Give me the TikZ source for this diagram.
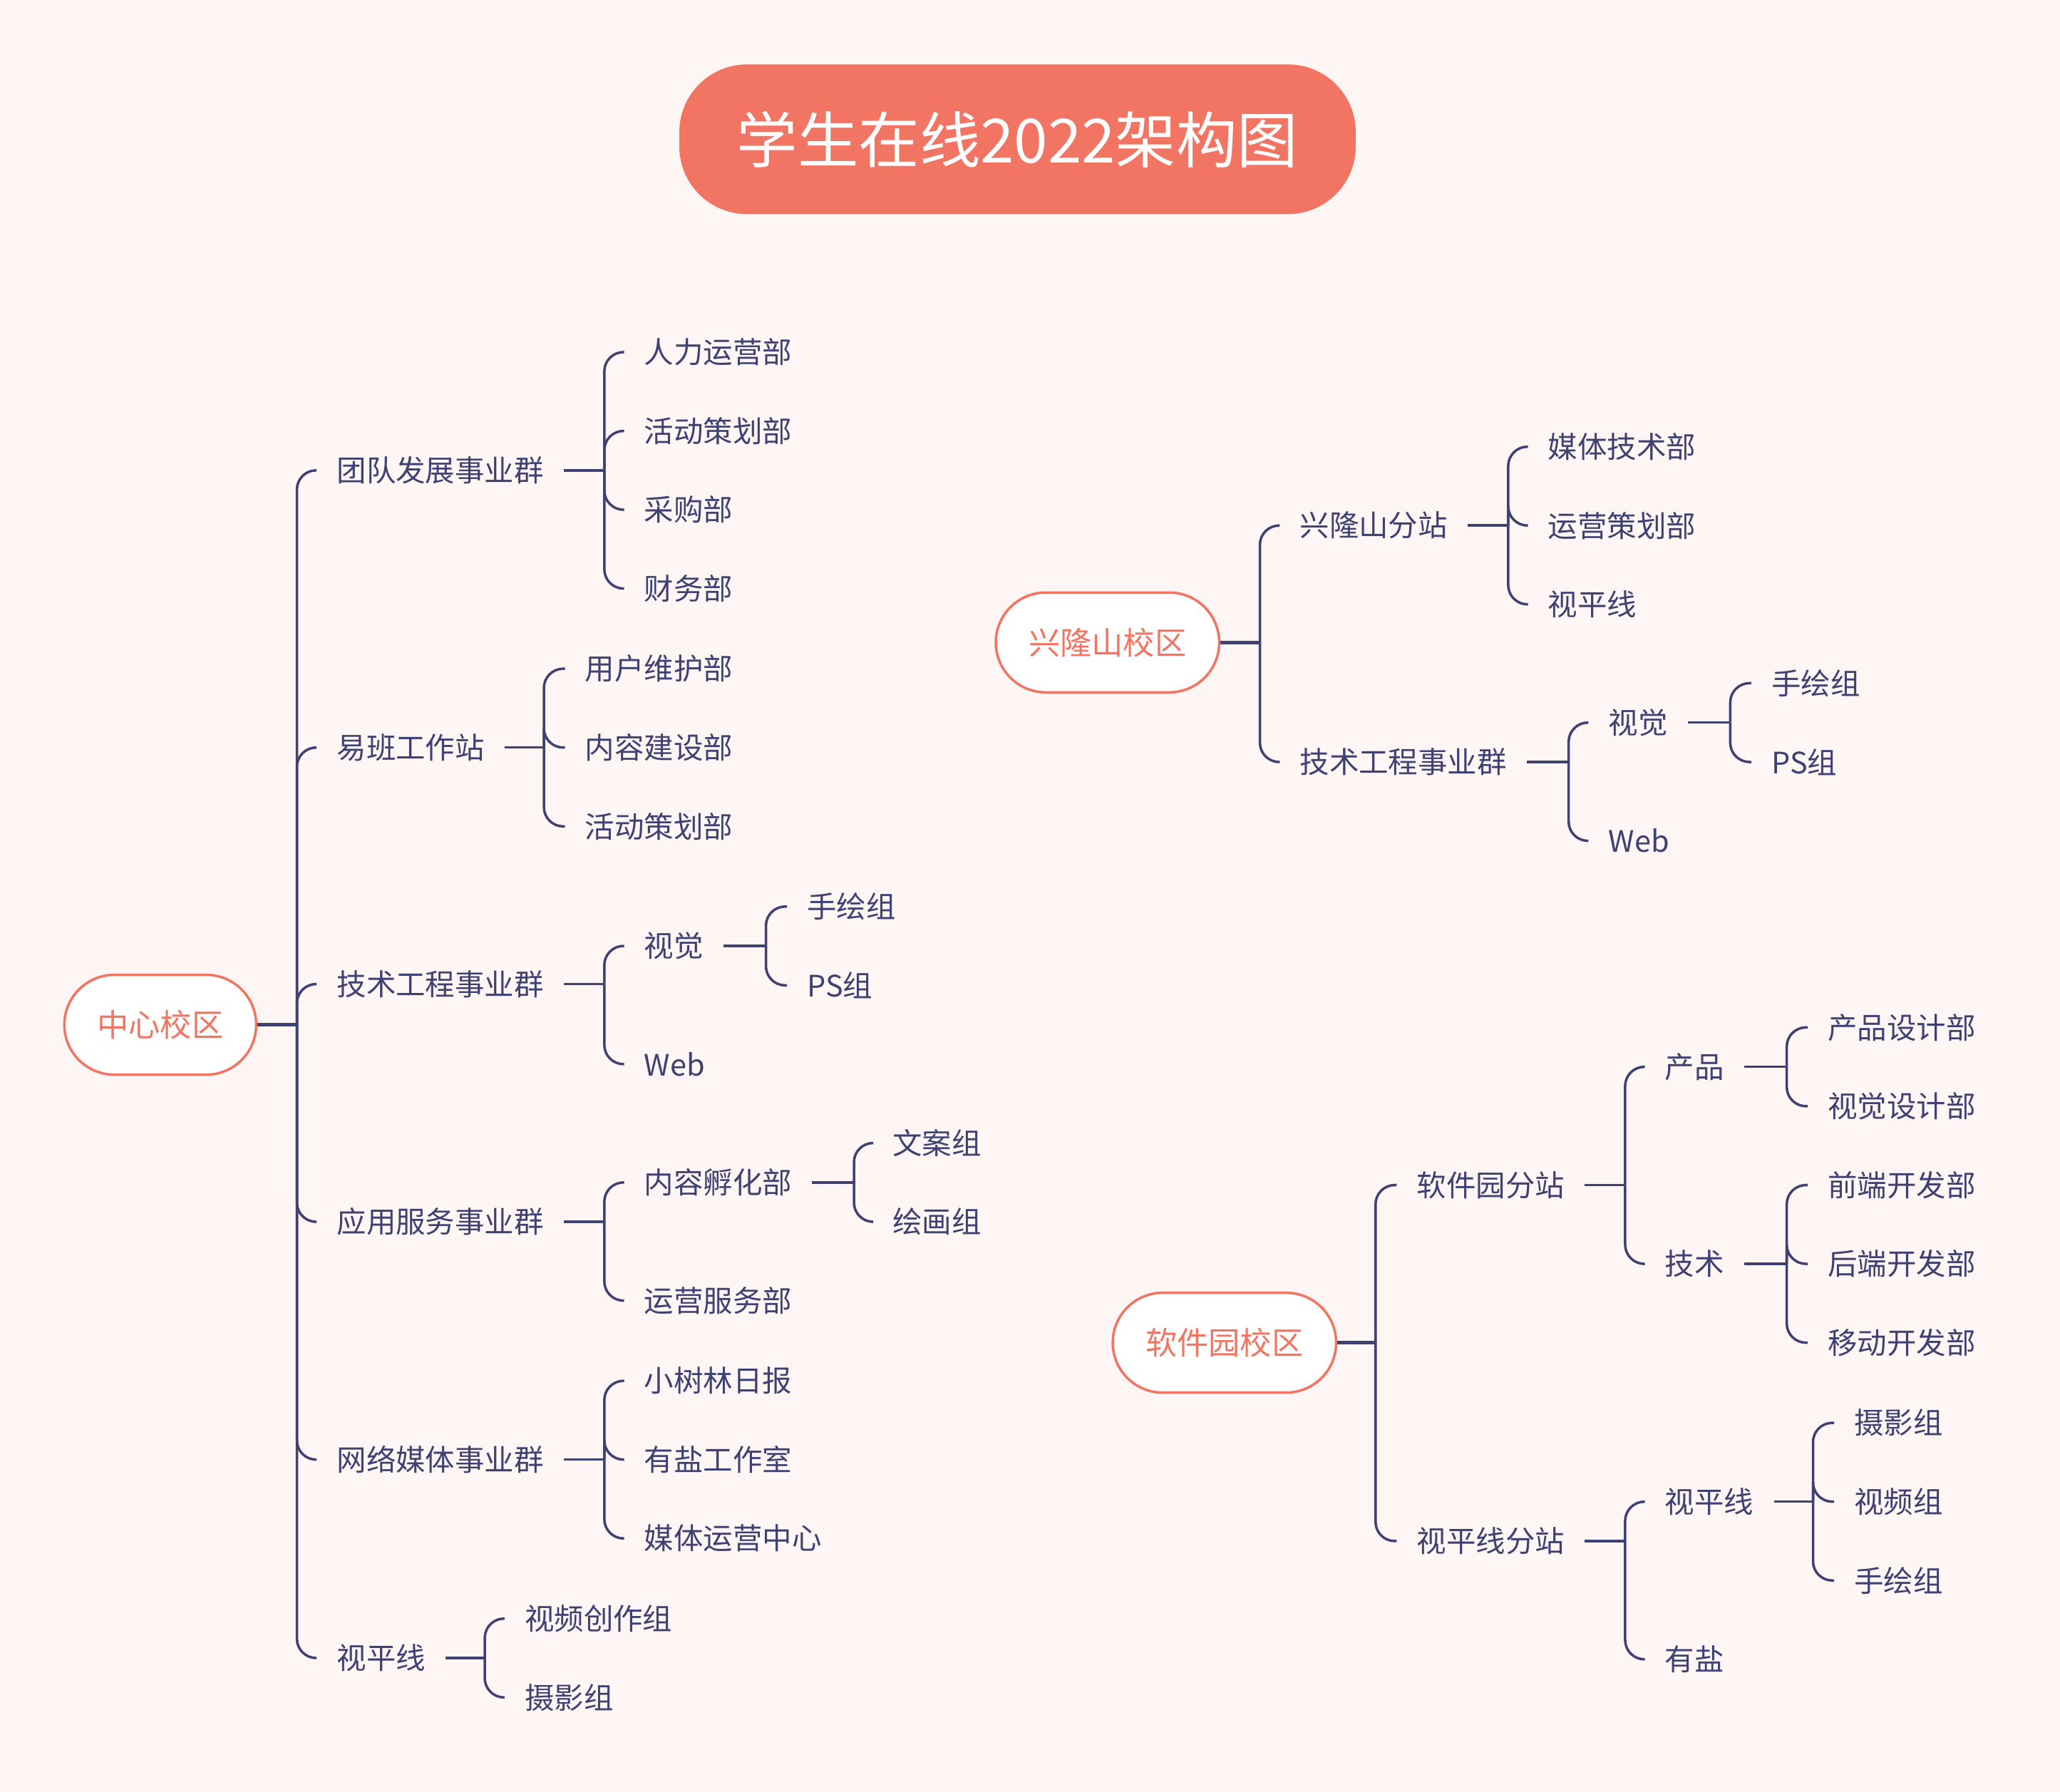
\documentclass[tikz,border=0pt]{standalone}
\usepackage{fontspec}
\setmainfont{Noto Sans CJK SC}
\definecolor{paper}{HTML}{FEF6F4}
\definecolor{salmon}{HTML}{F27462}
\definecolor{ink}{HTML}{3F4172}
\tikzset{
  lbl/.style={anchor=west, inner xsep=0.276cm, xshift=-0.276cm, inner ysep=2pt, text=ink, font=\fontsize{11.8}{14}\selectfont},
  campus/.style={draw=salmon, line width=1pt, fill=white, text=salmon, rounded corners=0.7cm, minimum height=1.4cm, inner xsep=0.46cm, font=\fontsize{12.6}{15}\selectfont},
  banner/.style={fill=salmon, text=white, rounded corners=0.95cm, minimum width=9.49cm, minimum height=2.1cm, font=\fontsize{24.3}{28}\selectfont},
  link/.style={draw=ink, line width=1pt, rounded corners=0.27cm},
  trunk/.style={draw=ink, line width=1.3pt},
}

\begin{document}
\begin{tikzpicture}[x=0.01843cm, y=-0.01843cm]
    \fill[paper] (0,0) rectangle (1568,1364);
    \useasboundingbox (0,0) rectangle (1568,1364);

    \node[banner] (title) at (774.5,106) {学生在线2022架构图};

    % 中心校区
    \node[campus] (zx) at (122,780) {中心校区};
    \node[lbl] (tdfz) at (256,358) {团队发展事业群};
    \node[lbl] (rlyy) at (490,268) {人力运营部};
    \node[lbl] (hdch) at (490,328) {活动策划部};
    \node[lbl] (cgb) at (490,388) {采购部};
    \node[lbl] (cwb) at (490,448) {财务部};
    \node[lbl] (yb) at (256,569) {易班工作站};
    \node[lbl] (yhwh) at (445,509) {用户维护部};
    \node[lbl] (nrjs) at (445,569) {内容建设部};
    \node[lbl] (hdchb) at (445,629) {活动策划部};
    \node[lbl] (jsgc) at (256,749) {技术工程事业群};
    \node[lbl] (sj) at (490,720) {视觉};
    \node[lbl] (shz) at (614,690) {手绘组};
    \node[lbl] (psz) at (614,750) {PS组};
    \node[lbl] (web) at (490,810) {Web};
    \node[lbl] (yyfw) at (256,930) {应用服务事业群};
    \node[lbl] (nrfh) at (490,900) {内容孵化部};
    \node[lbl] (waz) at (679,870) {文案组};
    \node[lbl] (hhz) at (679,930) {绘画组};
    \node[lbl] (yyfwb) at (490,990) {运营服务部};
    \node[lbl] (wlmt) at (256,1111) {网络媒体事业群};
    \node[lbl] (xsl) at (490,1051) {小树林日报};
    \node[lbl] (ygzs) at (490,1111) {有盐工作室};
    \node[lbl] (mtyy) at (490,1171) {媒体运营中心};
    \node[lbl] (spx) at (256,1262) {视平线};
    \node[lbl] (spcz) at (399,1232) {视频创作组};
    \node[lbl] (syz) at (399,1292) {摄影组};

    \coordinate (zxh) at (226,780);
    \coordinate (tdfzh) at (460,358);
    \coordinate (ybh) at (414,569);
    \coordinate (jsgch) at (460,749);
    \coordinate (sjh) at (583,720);
    \coordinate (yyfwh) at (460,930);
    \coordinate (nrfhh) at (650,900);
    \coordinate (wlmth) at (460,1111);
    \coordinate (spxh) at (369,1262);

    \draw[trunk] (zx.east) -- (zxh);
    \foreach \c in {tdfz,yb,jsgc,yyfw,wlmt,spx} \draw[link] (zxh) |- (\c.west);
    \foreach \p/\cs in {tdfz/{rlyy,hdch,cgb,cwb}, yb/{yhwh,nrjs,hdchb}, jsgc/{sj,web}, sj/{shz,psz},
        yyfw/{nrfh,yyfwb}, nrfh/{waz,hhz}, wlmt/{xsl,ygzs,mtyy}, spx/{spcz,syz}} {
      \draw[link] (\p.east) -- (\p h);
      \foreach \c in \cs \draw[link] (\p h) |- (\c.west);
    }

    % 兴隆山校区
    \node[campus] (xls) at (843,489) {兴隆山校区};
    \node[lbl] (xlsfz) at (989,400) {兴隆山分站};
    \node[lbl] (mtjs) at (1178,340) {媒体技术部};
    \node[lbl] (yych) at (1178,400) {运营策划部};
    \node[lbl] (spxb) at (1178,460) {视平线};
    \node[lbl] (jsgcb) at (989,580) {技术工程事业群};
    \node[lbl] (sjb) at (1224,550) {视觉};
    \node[lbl] (shzb) at (1348,520) {手绘组};
    \node[lbl] (pszb) at (1348,580) {PS组};
    \node[lbl] (webb) at (1224,640) {Web};

    \coordinate (xlsh) at (959,489);
    \coordinate (xlsfzh) at (1148,400);
    \coordinate (jsgcbh) at (1194,580);
    \coordinate (sjbh) at (1317,550);

    \draw[trunk] (xls.east) -- (xlsh);
    \foreach \c in {xlsfz,jsgcb} \draw[link] (xlsh) |- (\c.west);
    \foreach \p/\cs in {xlsfz/{mtjs,yych,spxb}, jsgcb/{sjb,webb}, sjb/{shzb,pszb}} {
      \draw[link] (\p.east) -- (\p h);
      \foreach \c in \cs \draw[link] (\p h) |- (\c.west);
    }

    % 软件园校区
    \node[campus] (rjy) at (932,1022) {软件园校区};
    \node[lbl] (rjyfz) at (1078,902) {软件园分站};
    \node[lbl] (cp) at (1267,812) {产品};
    \node[lbl] (cpsj) at (1391,782) {产品设计部};
    \node[lbl] (sjsj) at (1391,842) {视觉设计部};
    \node[lbl] (js) at (1267,962) {技术};
    \node[lbl] (qd) at (1391,902) {前端开发部};
    \node[lbl] (hd) at (1391,962) {后端开发部};
    \node[lbl] (yd) at (1391,1022) {移动开发部};
    \node[lbl] (spxfz) at (1078,1173) {视平线分站};
    \node[lbl] (spxc) at (1267,1143) {视平线};
    \node[lbl] (syzc) at (1411,1083) {摄影组};
    \node[lbl] (spz) at (1411,1143) {视频组};
    \node[lbl] (shzc) at (1411,1203) {手绘组};
    \node[lbl] (ys) at (1267,1263) {有盐};

    \coordinate (rjyh) at (1047,1022);
    \coordinate (rjyfzh) at (1237,902);
    \coordinate (cph) at (1360,812);
    \coordinate (jsh) at (1360,962);
    \coordinate (spxfzh) at (1237,1173);
    \coordinate (spxch) at (1380,1143);

    \draw[trunk] (rjy.east) -- (rjyh);
    \foreach \c in {rjyfz,spxfz} \draw[link] (rjyh) |- (\c.west);
    \foreach \p/\cs in {rjyfz/{cp,js}, cp/{cpsj,sjsj}, js/{qd,hd,yd}, spxfz/{spxc,ys}, spxc/{syzc,spz,shzc}} {
      \draw[link] (\p.east) -- (\p h);
      \foreach \c in \cs \draw[link] (\p h) |- (\c.west);
    }
  \end{tikzpicture}
\end{document}
